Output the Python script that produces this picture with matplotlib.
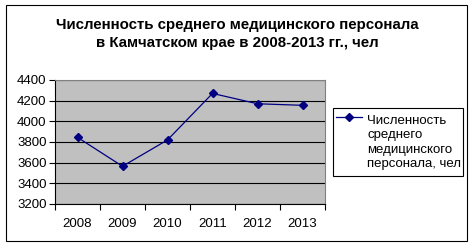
import matplotlib
matplotlib.use("Agg")
import matplotlib.pyplot as plt
from matplotlib.patches import Rectangle
from matplotlib.lines import Line2D

years = ["2008", "2009", "2010", "2011", "2012", "2013"]
staff = [3845, 3565, 3820, 4270, 4170, 4155]
yticks = [3200, 3400, 3600, 3800, 4000, 4200, 4400]
title = "Численность среднего медицинского персонала\nв Камчатском крае в 2008-2013 гг., чел"
series_label = "Численность\nсреднего\nмедицинского\nперсонала, чел"

plt.rcParams['font.family'] = ['Liberation Sans', 'DejaVu Sans']

W, H = 474, 246
fig = plt.figure(figsize=(W / 100, H / 100), dpi=100)

def fx(px):
    return px / W

def fy(py):
    return 1 - py / H

# outer chart border
fig.patches.append(Rectangle((fx(6), fy(241)), 461 / W, 236 / H,
                             transform=fig.transFigure, fill=False,
                             edgecolor='black', linewidth=0.8))

fig.text(fx(237), fy(34), title, ha='center', va='center',
         fontsize=10.8, fontweight='bold', linespacing=1.35)

ax = fig.add_axes([fx(55), fy(204), 270 / W, 124 / H])
ax.set_facecolor('#C0C0C0')

x = range(len(years))
line, = ax.plot(x, staff, color='#000080', marker='D', markersize=4,
                linewidth=0.9)

ax.set_xlim(-0.5, len(years) - 0.5)
ax.set_ylim(3200, 4400)
ax.set_yticks(yticks)
ax.set_yticklabels([str(v) for v in yticks], fontsize=9.5)
ax.yaxis.grid(True, color='black', linewidth=0.8)
ax.set_axisbelow(True)

ax.set_xticks([i - 0.5 for i in range(len(years) + 1)])
ax.set_xticklabels([])
ax.set_xticks(list(x), minor=True)
ax.set_xticklabels(years, minor=True, fontsize=9.5)
ax.tick_params(axis='x', which='minor', length=0, pad=10)
ax.tick_params(axis='x', which='major', length=4, direction='out')
ax.tick_params(axis='y', length=4, direction='out', pad=2)

for s in ['top', 'right']:
    ax.spines[s].set_color('#808080')
for s in ['left', 'bottom']:
    ax.spines[s].set_color('black')

# legend drawn by hand, Excel style
fig.patches.append(Rectangle((fx(333), fy(176)), 130 / W, 68 / H,
                             transform=fig.transFigure, facecolor='white',
                             edgecolor='black', linewidth=0.8))
fig.lines.append(Line2D([fx(336), fx(362)], [fy(117), fy(117)],
                        transform=fig.transFigure, color=line.get_color(),
                        linewidth=0.9))
fig.lines.append(Line2D([fx(349)], [fy(117)], transform=fig.transFigure,
                        color=line.get_color(), marker='D', markersize=4))
fig.text(fx(367), fy(142.5), series_label, ha='left', va='center',
         fontsize=9.5, linespacing=1.25)

fig.savefig("out.png", dpi=100)
